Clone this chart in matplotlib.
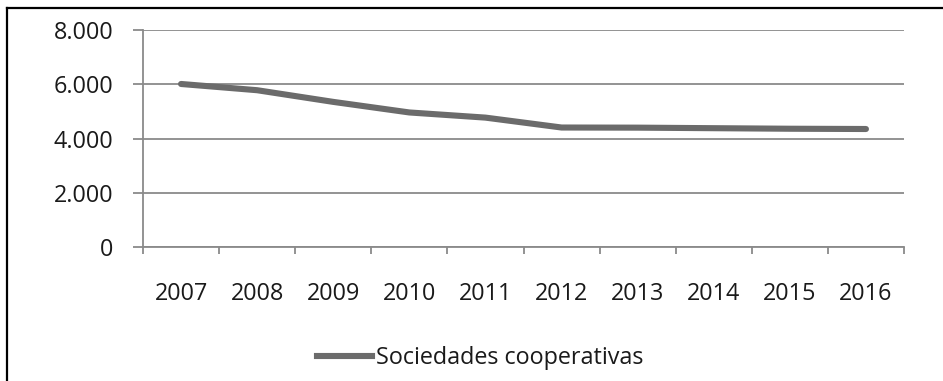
import matplotlib
matplotlib.use("Agg")
import matplotlib.pyplot as plt
from matplotlib.lines import Line2D
from matplotlib.ticker import FuncFormatter, FixedLocator

years = ["2007", "2008", "2009", "2010", "2011", "2012", "2013", "2014", "2015", "2016"]
sociedades = [6010, 5780, 5350, 4960, 4770, 4405, 4400, 4380, 4360, 4350]
series_name = "Sociedades cooperativas"
y_ticks = [0, 2000, 4000, 6000, 8000]

plt.rcParams['font.family'] = ['Open Sans', 'DejaVu Sans']

W, H = 943, 381
fig = plt.figure(figsize=(W / 100, H / 100), dpi=100)
ax = fig.add_axes([143 / W, 1 - 247 / H, (904 - 143) / W, (247 - 30) / H])

grey = "#8a8a8a"
linec = "#6b6b6b"
fs = 16.8
x = list(range(len(years)))
ax.plot(x, sociedades, color=linec, lw=4.4, solid_capstyle="round",
        solid_joinstyle="round", label=series_name, zorder=3)

ax.set_xlim(-0.5, len(years) - 0.5)
ax.set_ylim(0, 8000)
ax.set_yticks(y_ticks)
ax.yaxis.set_major_formatter(FuncFormatter(lambda v, p: f"{int(v):,}".replace(",", ".")))
ax.grid(axis="y", color=grey, lw=1.3, zorder=1)

# category boundaries as major ticks, labels at centers via minor ticks
ax.xaxis.set_major_locator(FixedLocator([i - 0.5 for i in range(len(years) + 1)]))
ax.xaxis.set_minor_locator(FixedLocator(x))
ax.set_xticklabels([], minor=False)
ax.set_xticks(x, minor=True)
ax.set_xticklabels(years, minor=True)
ax.tick_params(axis="x", which="major", length=5, width=1.3, color=grey, direction="out")
ax.tick_params(axis="x", which="minor", length=0, pad=25, labelsize=fs, labelcolor="#1a1a1a")
ax.tick_params(axis="y", length=7.5, width=1.3, color=grey, direction="out", pad=14,
               labelsize=fs, labelcolor="#1a1a1a")

for s in ["top", "right"]:
    ax.spines[s].set_visible(False)
for s in ["left", "bottom"]:
    ax.spines[s].set_color(grey)
    ax.spines[s].set_linewidth(1.3)

leg = fig.legend(handles=[Line2D([], [], color=linec, lw=4.4)], labels=[series_name],
                 loc="center left", bbox_to_anchor=(317 / W, 1 - 358 / H),
                 frameon=False, fontsize=fs, handlelength=2.35, handletextpad=0.2,
                 borderpad=0, borderaxespad=0)
for t in leg.get_texts():
    t.set_color("#1a1a1a")

# outer frame (top and left visible)
fig.add_artist(Line2D([7 / W, 1.0], [1 - 8 / H, 1 - 8 / H], color="black", lw=1.6,
                      transform=fig.transFigure))
fig.add_artist(Line2D([7 / W, 7 / W], [0, 1 - 8 / H], color="black", lw=1.6,
                      transform=fig.transFigure))

fig.savefig("out.png", dpi=100, facecolor="white")
